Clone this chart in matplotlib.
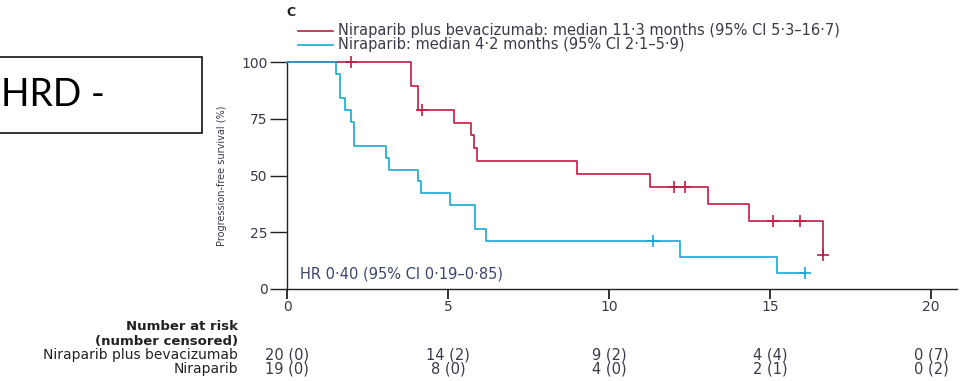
import matplotlib
matplotlib.use("Agg")
import matplotlib.pyplot as plt
from matplotlib.patches import Rectangle
import numpy as np

RED = "#c41a43"
BLUE = "#16a8cf"
TXT = "#3a3a48"

# Kaplan-Meier steps (months, survival %)
combo_t = [0, 3.85, 4.06, 5.2, 5.7, 5.8, 5.9, 9.0, 11.26, 13.07, 14.36, 16.65]
combo_s = [100, 89.5, 78.9, 73.3, 67.7, 62.0, 56.4, 50.7, 45.1, 37.6, 30.1, 15.0]
combo_end = 16.65
combo_cens_t = [2.0, 4.2, 12.03, 12.37, 15.08, 15.93, 16.65]
combo_cens_s = [100, 78.9, 45.1, 45.1, 30.1, 30.1, 15.0]

nira_t = [0, 1.51, 1.64, 1.80, 2.0, 2.08, 3.06, 3.16, 4.07, 4.15, 5.05, 5.83, 6.19, 12.22, 15.21]
nira_s = [100, 94.7, 84.2, 78.9, 73.7, 63.2, 57.9, 52.6, 47.4, 42.1, 36.8, 26.3, 21.1, 14.0, 7.0]
nira_end = 16.08
nira_cens_t = [11.38, 16.08]
nira_cens_s = [21.1, 7.0]

risk_times = [0, 5, 10, 15, 20]
risk_combo = ["20 (0)", "14 (2)", "9 (2)", "4 (4)", "0 (7)"]
risk_nira = ["19 (0)", "8 (0)", "4 (0)", "2 (1)", "0 (2)"]

legend_combo = "Niraparib plus bevacizumab: median 11\u00b73 months (95% CI 5\u00b73\u201316\u00b77)"
legend_nira = "Niraparib: median 4\u00b72 months (95% CI 2\u00b71\u20135\u00b79)"
hr_text = "HR 0\u00b740 (95% CI 0\u00b719\u20130\u00b785)"

W, H = 965, 381
fig = plt.figure(figsize=(W / 100, H / 100), dpi=100)
x0, x1, ytop, ybot = 287, 957, 62, 289
ax = fig.add_axes([x0 / W, 1 - ybot / H, (x1 - x0) / W, (ybot - ytop) / H])

px_per_month = 32.2
ax.set_xlim(0, (x1 - x0) / px_per_month)
ax.set_ylim(0, 100)


def km(ax, t, s, end, ct, cs, color):
    tt = list(t) + [end]
    ss = list(s) + [s[-1]]
    ax.step(tt, ss, where="post", color=color, lw=1.2, clip_on=False, zorder=3)
    ax.plot(ct, cs, ls="none", marker="+", ms=8, mew=1.2, color=color,
            clip_on=False, zorder=4)


km(ax, combo_t, combo_s, combo_end, combo_cens_t, combo_cens_s, RED)
km(ax, nira_t, nira_s, nira_end, nira_cens_t, nira_cens_s, BLUE)

for sp in ["top", "right"]:
    ax.spines[sp].set_visible(False)
for sp in ["left", "bottom"]:
    ax.spines[sp].set_color("#222222")
    ax.spines[sp].set_linewidth(1.0)

ax.set_xticks(risk_times)
ax.set_yticks([0, 25, 50, 75, 100])
ax.tick_params(axis="y", direction="out", length=12, width=1.0, color="#222222",
               labelsize=10, labelcolor=TXT, pad=2)
ax.tick_params(axis="x", direction="out", length=7, width=1.3, color="#222222",
               labelsize=10, labelcolor=TXT, pad=1)
ax.set_ylabel("Progression-free survival (%)", fontsize=7, color=TXT,
              labelpad=10)

ax.text(300 / W, 1 - 274 / H, hr_text, transform=fig.transFigure, fontsize=10.5,
        color="#3b4670", va="center", ha="left")

# panel letter and legend
fig.text(286 / W, 1 - 13 / H, "C", fontsize=9, weight="bold", color="#222222",
         va="center", ha="left")
for yy, col, lab in [(31, RED, legend_combo), (45, BLUE, legend_nira)]:
    fig.add_artist(plt.Line2D([298 / W, 333 / W], [1 - yy / H, 1 - yy / H],
                              color=col, lw=1.2))
    fig.text(338 / W, 1 - yy / H, lab, fontsize=10.5, color=TXT,
             va="center", ha="left")

# number at risk table
lab_x = 238 / W
fig.text(lab_x, 1 - 327 / H, "Number at risk", fontsize=9.5, color="#222222",
         ha="right", va="center", weight="bold")
fig.text(lab_x, 1 - 341 / H, "(number censored)", fontsize=9.5, color="#222222",
         ha="right", va="center", weight="bold")
for yy, name, vals in [(355, "Niraparib plus bevacizumab", risk_combo),
                       (369, "Niraparib", risk_nira)]:
    fig.text(lab_x, 1 - yy / H, name, fontsize=10, color="#222222",
             ha="right", va="center")
    for tm, v in zip(risk_times, vals):
        xf = (x0 + tm * px_per_month) / W
        fig.text(xf, 1 - yy / H, v, fontsize=10.5, color=TXT, ha="center",
                 va="center")

# the cropped "HRD -" box at the left
fig.add_artist(Rectangle((-5 / W, 1 - 133 / H), 207 / W, 76 / H,
                         transform=fig.transFigure, fill=False,
                         edgecolor="#111111", lw=1.2))
fig.text(1 / W, 1 - 95 / H, "HRD -", fontsize=27, color="black",
         ha="left", va="center", family=["Lato", "DejaVu Sans"])

fig.savefig("out.png", dpi=100)
